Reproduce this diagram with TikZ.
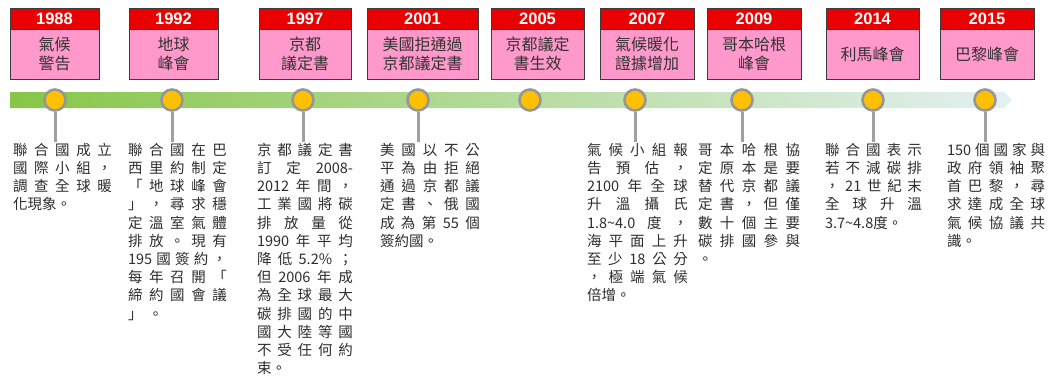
\documentclass[tikz,border=0pt]{standalone}
\usepackage{fontspec}
\setmainfont{Liberation Sans}
\newfontfamily\cjk{Noto Sans CJK TC}
\usetikzlibrary{calc}
\definecolor{hdrred}{RGB}{235,0,0}
\definecolor{bodypink}{RGB}{255,153,204}
\definecolor{boxline}{RGB}{60,60,60}
\definecolor{boxtext}{RGB}{50,50,50}
\definecolor{bodytext}{RGB}{45,45,45}
\definecolor{dotfill}{RGB}{255,192,0}
\definecolor{dotring}{RGB}{150,150,150}
\definecolor{stemgray}{RGB}{160,160,160}
\definecolor{barL}{RGB}{135,198,72}
\definecolor{barM}{RGB}{192,227,172}
\definecolor{barR}{RGB}{228,240,242}
\newcommand\gp{\hfill}
\newcommand\JL[1]{\noindent\makebox[\linewidth][s]{#1}\par}
\newcommand\LL[1]{\noindent #1\par}
\newcommand\tld{{\char"7E}}
\tikzset{
  hdr/.style={rectangle, draw=boxline, line width=0.8pt, fill=hdrred, minimum height=21pt,
    inner sep=0pt, text=white, font=\fontsize{16.5}{18}\selectfont\bfseries},
  bdy/.style={rectangle, draw=boxline, line width=0.8pt, fill=bodypink, minimum height=50pt,
    inner sep=0pt, text=boxtext, align=center, font=\cjk\fontsize{16}{18.5}\selectfont},
  dot/.style={circle, fill=dotfill, draw=dotring, line width=2.6pt, minimum size=21pt, inner sep=0pt},
  stem/.style={draw=stemgray, line width=3pt},
  coltext/.style={anchor=north west, inner sep=0pt, outer sep=0pt, text=bodytext,
    font=\cjk\fontsize{14.5}{18.2}\selectfont}
}
\newcommand\evt[5]{%
  \node[hdr, minimum width={#3pt-#2pt}] (h#1) at ({(#2+#3)/2},18.5) {#4};
  \node[bdy, minimum width={#3pt-#2pt}] (b#1) at ({(#2+#3)/2},54) {#5};
}
\begin{document}
\begin{tikzpicture}[x=1pt,y=-1pt]
\useasboundingbox (0,0) rectangle (1055,376);
% timeline bar
\shade[left color=barL, middle color=barM, right color=barR]
  (10,92) -- (1004,92) -- (1012,100) -- (1004,108) -- (10,108) -- cycle;
% event boxes
\evt{a}{10}{99}{1988}{氣候\\警告}
\evt{b}{129}{218}{1992}{地球\\峰會}
\evt{c}{259}{351}{1997}{京都\\議定書}
\evt{d}{367}{478}{2001}{美國拒通過\\京都議定書}
\evt{e}{491}{584}{2005}{京都議定\\書生效}
\evt{f}{600}{694}{2007}{氣候暖化\\證據增加}
\evt{g}{707}{801}{2009}{哥本哈根\\峰會}
\evt{h}{826}{919}{2014}{利馬峰會}
\evt{i}{940}{1034}{2015}{巴黎峰會}
% stems end points
\coordinate (sa) at (55,142);
\coordinate (sb) at (172,142);
\coordinate (sc) at (303,142);
\coordinate (sd) at (418,142);
\coordinate (sf) at (635,142);
\coordinate (sg) at (742,142);
\coordinate (sh) at (873,142);
\coordinate (si) at (985,142);
% dots
\node[dot] (ca) at (55,100) {};
\node[dot] (cb) at (172,100) {};
\node[dot] (cc) at (303,100) {};
\node[dot] (cd) at (418,100) {};
\node[dot] (ce) at (530,100) {};
\node[dot] (cf) at (635,100) {};
\node[dot] (cg) at (742,100) {};
\node[dot] (ch) at (873,100) {};
\node[dot] (ci) at (985,100) {};
\foreach \k in {a,b,c,d,f,g,h,i} { \draw[stem] (c\k.south) -- (s\k); }
% text columns
\node[coltext, text width=99pt] (ta) at (13,143) {%
\JL{聯\gp 合\gp 國\gp 成\gp 立}
\JL{國\gp 際\gp 小\gp 組\gp ，}
\JL{調\gp 查\gp 全\gp 球\gp 暖}
\LL{化現象。}};
\node[coltext, text width=99pt] (tb) at (128,143) {%
\JL{聯\gp 合\gp 國\gp 在\gp 巴}
\JL{西\gp 里\gp 約\gp 制\gp 定}
\JL{「\gp 地\gp 球\gp 峰\gp 會}
\JL{」\gp ，\gp 尋\gp 求\gp 穩}
\JL{定\gp 溫\gp 室\gp 氣\gp 體}
\JL{排\gp 放\gp 。\gp 現\gp 有}
\JL{195\gp 國\gp 簽\gp 約\gp ，}
\JL{每\gp 年\gp 召\gp 開\gp 「}
\JL{締\gp 約\gp 國\gp 會\gp 議}
\LL{」\hspace{6pt}。}};
\node[coltext, text width=96pt] (tc) at (257,143) {%
\JL{京\gp 都\gp 議\gp 定\gp 書}
\JL{訂\gp 定\gp 2008-}
\JL{2012\gp 年\gp 間\gp ，}
\JL{工\gp 業\gp 國\gp 將\gp 碳}
\JL{排\gp 放\gp 量\gp 從}
\JL{1990\gp 年\gp 平\gp 均}
\JL{降\gp 低\gp 5.2\%\gp ；}
\JL{但\gp 2006\gp 年\gp 成}
\JL{為\gp 全\gp 球\gp 最\gp 大}
\JL{碳\gp 排\gp 國\gp 的\gp 中}
\JL{國\gp 大\gp 陸\gp 等\gp 國}
\JL{不\gp 受\gp 任\gp 何\gp 約}
\LL{束。}};
\node[coltext, text width=100pt] (td) at (380,143) {%
\JL{美\gp 國\gp 以\gp 不\gp 公}
\JL{平\gp 為\gp 由\gp 拒\gp 絕}
\JL{通\gp 過\gp 京\gp 都\gp 議}
\JL{定\gp 書\gp 、\gp 俄\gp 國}
\JL{成\gp 為\gp 第\gp 55\gp 個}
\LL{簽約國。}};
\node[coltext, text width=101pt] (tf) at (587,143) {%
\JL{氣\gp 候\gp 小\gp 組\gp 報}
\JL{告\gp 預\gp 估\gp ，}
\JL{2100\gp 年\gp 全\gp 球}
\JL{升\gp 溫\gp 攝\gp 氏}
\JL{1.8\tld 4.0\gp 度\gp ，}
\JL{海\gp 平\gp 面\gp 上\gp 升}
\JL{至\gp 少\gp 18\gp 公\gp 分}
\JL{，\gp 極\gp 端\gp 氣\gp 候}
\LL{倍增。}};
\node[coltext, text width=102pt] (tg) at (698,143) {%
\JL{哥\gp 本\gp 哈\gp 根\gp 協}
\JL{定\gp 原\gp 本\gp 是\gp 要}
\JL{替\gp 代\gp 京\gp 都\gp 議}
\JL{定\gp 書\gp ，\gp 但\gp 僅}
\JL{數\gp 十\gp 個\gp 主\gp 要}
\JL{碳\gp 排\gp 國\gp 參\gp 與}
\LL{。}};
\node[coltext, text width=97pt] (th) at (825,143) {%
\JL{聯\gp 合\gp 國\gp 表\gp 示}
\JL{若\gp 不\gp 減\gp 碳\gp 排}
\JL{，\gp 21\gp 世\gp 紀\gp 末}
\JL{全\gp 球\gp 升\gp 溫}
\LL{3.7\tld 4.8度。}};
\node[coltext, text width=98pt] (ti) at (947,143) {%
\JL{150\gp 個\gp 國\gp 家\gp 與}
\JL{政\gp 府\gp 領\gp 袖\gp 聚}
\JL{首\gp 巴\gp 黎\gp ，\gp 尋}
\JL{求\gp 達\gp 成\gp 全\gp 球}
\JL{氣\gp 候\gp 協\gp 議\gp 共}
\LL{識。}};
\end{tikzpicture}
\end{document}
